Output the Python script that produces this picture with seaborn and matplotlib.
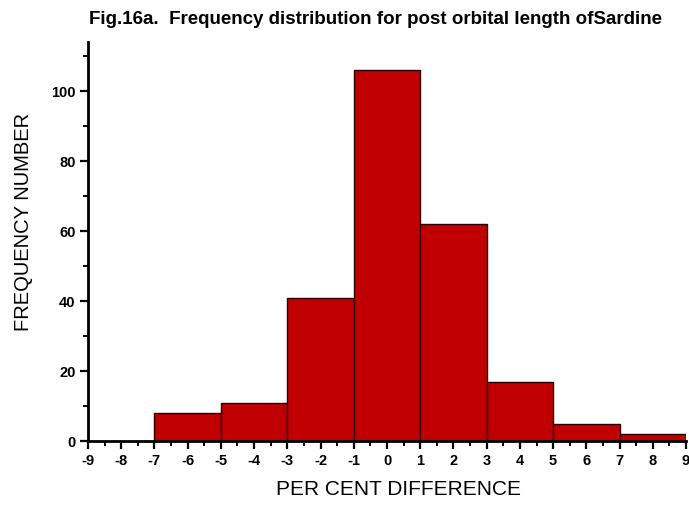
import matplotlib
matplotlib.use("Agg")
import matplotlib.pyplot as plt
import seaborn as sns
import numpy as np
from matplotlib.ticker import MultipleLocator

# Class intervals (per cent difference) and frequency in each class
bin_edges = [-7, -5, -3, -1, 1, 3, 5, 7, 9]
frequencies = [8, 11, 41, 106, 62, 17, 5, 2]
x_ticks = list(range(-9, 10))
y_ticks = [0, 20, 40, 60, 80, 100]

bin_mids = [(a + b) / 2 for a, b in zip(bin_edges[:-1], bin_edges[1:])]

sns.set_theme(style="ticks")
plt.rcParams["font.family"] = ["Liberation Sans", "DejaVu Sans"]
plt.rcParams.update({
    "text.color": "black",
    "axes.labelcolor": "black",
    "xtick.color": "black",
    "ytick.color": "black",
})

fig = plt.figure(figsize=(6.89, 5.05), dpi=100)
ax = fig.add_axes([0.1277, 0.1267, 0.868, 0.79])

sns.histplot(x=bin_mids, weights=frequencies, bins=bin_edges, ax=ax,
             color="#c00000", alpha=1.0, edgecolor="#2a0000", linewidth=1.0)

ax.set_xlim(-9, 9)
ax.set_ylim(0, 114)
ax.set_xticks(x_ticks)
ax.set_xticklabels([str(t) for t in x_ticks], fontweight="bold", fontsize=10.5)
ax.set_yticks(y_ticks)
ax.set_yticklabels([str(t) for t in y_ticks], fontweight="bold", fontsize=10.5)
ax.xaxis.set_minor_locator(MultipleLocator(0.5))
ax.yaxis.set_minor_locator(MultipleLocator(10))
ax.tick_params(axis="both", which="major", direction="out", length=6, width=1.6,
               color="black", pad=3)
ax.tick_params(axis="both", which="minor", direction="out", length=3.5, width=1.4,
               color="black")

sns.despine(ax=ax)
for side in ("left", "bottom"):
    ax.spines[side].set_linewidth(2.0)
    ax.spines[side].set_color("black")

ax.set_xlabel("PER CENT DIFFERENCE", fontsize=15, labelpad=9, x=0.52)
ax.set_ylabel("FREQUENCY NUMBER", fontsize=14.5, labelpad=13, y=0.55)
ax.set_title("Fig.16a.  Frequency distribution for post orbital length ofSardine",
             fontsize=13.5, fontweight="bold", x=0.48, pad=13)
ax.grid(False)

fig.savefig("out.png", dpi=100, facecolor="white")
